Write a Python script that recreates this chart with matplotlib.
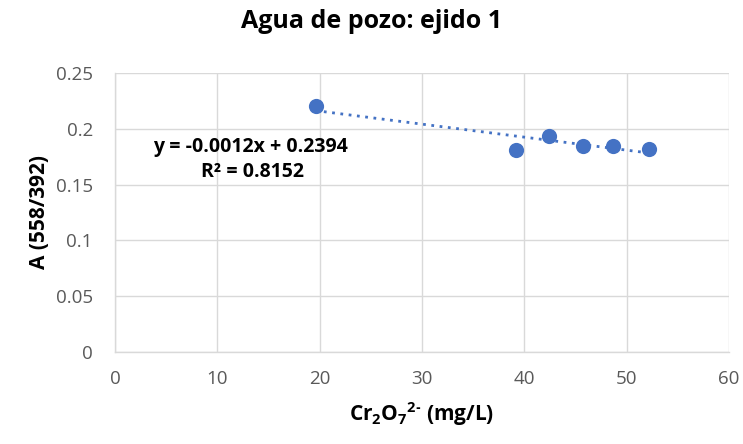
import numpy as np
import matplotlib
matplotlib.use("Agg")
import matplotlib.pyplot as plt

# ── Data ───────────────────────────────────────────────────────
conc = [19.6, 39.2, 42.4, 45.7, 48.7, 52.2]          # Cr2O7 2- (mg/L)
absorb = [0.220, 0.181, 0.1935, 0.185, 0.185, 0.1815]  # A (558/392)
eq_text = "y = -0.0012x + 0.2394"
r2_text = "R² = 0.8152"

plt.rcParams.update({
    "font.family": ["Open Sans", "DejaVu Sans"],
    "mathtext.fontset": "custom",
    "mathtext.rm": "Open Sans:bold",
    "mathtext.bf": "Open Sans:bold",
    "mathtext.default": "bf",
})

BLUE = "#4472C4"
GRID = "#d9d9d9"
TICK = "#595959"

fig = plt.figure(figsize=(7.43, 4.44), dpi=100)
ax = fig.add_axes([0.1548, 0.2072, 0.8264, 0.6284])

ax.scatter(conc, absorb, s=120, color=BLUE, zorder=3, lw=0)

# linear trendline over the data range
m, b = np.polyfit(conc, absorb, 1)
xs = np.array([min(conc), max(conc)])
ax.plot(xs, m * xs + b, color=BLUE, lw=2, ls=(0, (1, 2)), zorder=2)

ax.set_xlim(0, 60)
ax.set_ylim(0, 0.25)
ax.set_xticks(np.arange(0, 61, 10))
ax.set_yticks([0, 0.05, 0.1, 0.15, 0.2, 0.25])
ax.set_yticklabels(["0", "0.05", "0.1", "0.15", "0.2", "0.25"])
ax.grid(True, color=GRID, lw=1)
ax.set_axisbelow(True)
for s in ["top", "right"]:
    ax.spines[s].set_visible(False)
for s in ["left", "bottom"]:
    ax.spines[s].set_color(GRID)
    ax.spines[s].set_linewidth(1)
ax.tick_params(length=0, labelsize=13.5, colors=TICK)
ax.tick_params(axis="y", pad=16)
ax.tick_params(axis="x", pad=13)

# chart title centred on the figure, as in the spreadsheet chart
fig.text(0.5, 1 - 22 / 444, "Agua de pozo: ejido 1", fontsize=18,
         fontweight="bold", ha="center", va="center")
ax.set_xlabel("Cr$_2$O$_7$$^{2\u2010}$ (mg/L)", fontsize=15, fontweight="bold", labelpad=9)
ax.set_ylabel("A (558/392)", fontsize=15, fontweight="bold", labelpad=4)

ax.text(13.2, 0.184, eq_text, fontsize=14, fontweight="bold", ha="center", va="center")
ax.text(13.4, 0.161, r2_text, fontsize=14, fontweight="bold", ha="center", va="center")

fig.savefig("out.png", dpi=100)
